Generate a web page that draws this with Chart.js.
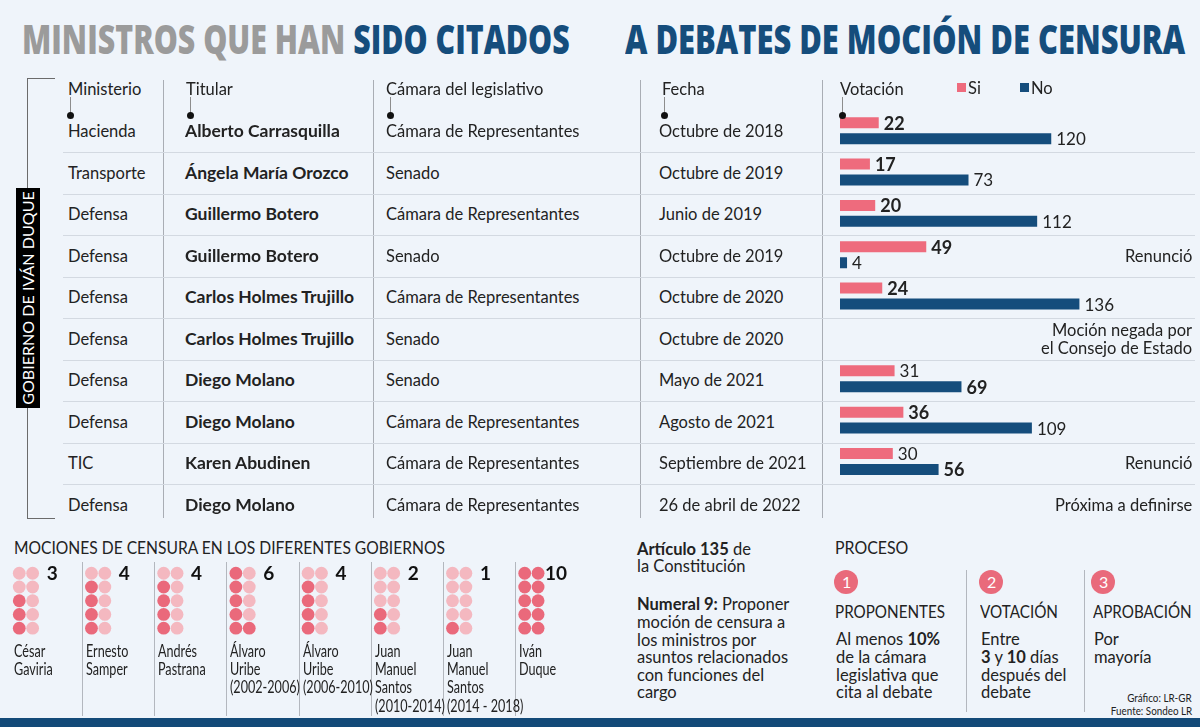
<!DOCTYPE html>
<html lang="es">
<head>
<meta charset="utf-8">
<title>Ministros citados a debates de moción de censura</title>
<script src="https://cdn.jsdelivr.net/npm/chart.js@4.4.1/dist/chart.umd.min.js"></script>
<style>
  body { margin: 0; background: #eff4fa; }
  #lienzo { position: relative; width: 1200px; height: 727px; overflow: hidden; background: #eff4fa; font-family: Lato, "Open Sans", sans-serif; color: #222; }
  .t { position: absolute; white-space: nowrap; font-size: 16.5px; }
  .ln { position: absolute; }
  canvas { position: absolute; }
</style>
</head>
<body>
<div id="lienzo">
  <canvas id="barras" width="360" height="415" style="left:840px;top:110px"></canvas>
  <canvas id="puntos" width="600" height="72" style="left:0px;top:565px"></canvas>
</div>
<script>
// DATOS DE LA TABLA
const ministerios = ['Hacienda', 'Transporte', 'Defensa', 'Defensa', 'Defensa', 'Defensa', 'Defensa', 'Defensa', 'TIC', 'Defensa'];
const titulares = ['Alberto Carrasquilla', 'Ángela María Orozco', 'Guillermo Botero', 'Guillermo Botero', 'Carlos Holmes Trujillo',
    'Carlos Holmes Trujillo', 'Diego Molano', 'Diego Molano', 'Karen Abudinen', 'Diego Molano'];
const camaras = ['Cámara de Representantes', 'Senado', 'Cámara de Representantes', 'Senado', 'Cámara de Representantes',
    'Senado', 'Senado', 'Cámara de Representantes', 'Cámara de Representantes', 'Cámara de Representantes'];
const fechas = ['Octubre de 2018', 'Octubre de 2019', 'Junio de 2019', 'Octubre de 2019', 'Octubre de 2020',
    'Octubre de 2020', 'Mayo de 2021', 'Agosto de 2021', 'Septiembre de 2021', '26 de abril de 2022'];
const votosSi = [22, 17, 20, 49, 24, null, 31, 36, 30, null];
const votosNo = [120, 73, 112, 4, 136, null, 69, 109, 56, null];
const resaltado = ['si', 'si', 'si', 'si', 'si', null, 'no', 'si', 'no', null];
const notas = ['', '', '', ['Renunció'], '', ['Moción negada por', 'el Consejo de Estado'], '', '', ['Renunció'], ['Próxima a definirse']];

// DATOS DE LOS GOBIERNOS
const gobiernos = [['César', 'Gaviria'], ['Ernesto', 'Samper'], ['Andrés', 'Pastrana'], ['Álvaro', 'Uribe', '(2002-2006)'],
    ['Álvaro', 'Uribe', '(2006-2010)'], ['Juan', 'Manuel', 'Santos', '(2010-2014)'], ['Juan', 'Manuel', 'Santos', '(2014 - 2018)'], ['Iván', 'Duque']];
const mociones = [3, 4, 4, 6, 4, 2, 1, 10];

const colorSi = '#ee6b7d';
const colorNo = '#154d7c';
const angosta = 'Lato, sans-serif';
const lienzo = document.getElementById('lienzo');

// texto posicionado por su centro vertical
function texto(x, y, html, o = {}) {
    const d = document.createElement('div');
    d.className = 't';
    d.innerHTML = html;
    const lh = o.lh || 20;
    d.style.lineHeight = lh + 'px';
    d.style.top = (y - lh / 2) + 'px';
    if (o.size) d.style.fontSize = o.size + 'px';
    if (o.weight) d.style.fontWeight = o.weight;
    if (o.color) d.style.color = o.color;
    if (o.font) d.style.fontFamily = o.font;
    lienzo.appendChild(d);
    const w = d.offsetWidth;
    d.style.left = (o.right ? o.right - w : x) + 'px';
    const s = o.w ? o.w / w : o.sx;
    if (s) {
        d.style.transformOrigin = o.right ? 'right center' : 'left center';
        d.style.transform = `scaleX(${s})`;
    }
    return d;
}
function linea(x, y, w, h, color) {
    const d = document.createElement('div');
    d.className = 'ln';
    Object.assign(d.style, { left: x + 'px', top: y + 'px', width: w + 'px', height: h + 'px', background: color });
    lienzo.appendChild(d);
    return d;
}

// TITULO
texto(22, 38, '<span style="color:#9b9b9b">MINISTROS QUE HAN </span><span style="color:#154d7c">SIDO CITADOS</span>',
    { size: 41, weight: 800, font: '"Open Sans"', lh: 48, w: 548 });
texto(625, 38, '<span style="color:#154d7c">A DEBATES DE MOCIÓN DE CENSURA</span>',
    { size: 41, weight: 800, font: '"Open Sans"', lh: 48, w: 560 });

// ESTRUCTURA DE LA TABLA
const filaTop = 110.5, filaAlto = 41.5;
linea(27, 78, 1, 441, '#6b6b6b');
linea(27, 78, 28, 1, '#6b6b6b');
linea(27, 518, 28, 1, '#6b6b6b');
[163, 373, 640, 822].forEach(x => linea(x, 80, 1, 438, '#a9adb4'));
for (let i = 1; i < ministerios.length; i++) linea(63, Math.round(filaTop + filaAlto * i), 1132, 1, '#d3d9e1');

linea(16, 188, 24, 220, '#000');
const rot = texto(0, 0, 'GOBIERNO DE IVÁN DUQUE', { size: 16, color: '#fff', lh: 20 });
rot.style.left = (28 - rot.offsetWidth / 2) + 'px';
rot.style.top = (298 - 10) + 'px';
rot.style.transform = `rotate(-90deg) scaleX(${214 / rot.offsetWidth})`;

// encabezados
const encabezados = [['Ministerio', 68, 70], ['Titular', 186, 190], ['Cámara del legislativo', 386, 390], ['Fecha', 662, 664], ['Votación', 840, 842]];
encabezados.forEach(([txt, x, px]) => {
    texto(x, 89, txt);
    linea(px, 97, 1, 16, '#8d8d8d');
    const p = linea(px - 3, 112, 7, 7, '#111');
    p.style.borderRadius = '50%';
});
linea(957, 83, 9, 9, colorSi);
texto(968, 88, 'Si');
linea(1020, 83, 9, 9, colorNo);
texto(1031, 88, 'No');

ministerios.forEach((m, i) => {
    const y = filaTop + filaAlto * (i + 0.5);
    texto(68, y, m);
    texto(185, y, titulares[i], { weight: 700, size: 17.5 });
    texto(386, y, camaras[i]);
    texto(659, y, fechas[i]);
    if (notas[i]) notas[i].forEach((n, k) => texto(0, y + (k - (notas[i].length - 1) / 2) * 18, n, { right: 1192 }));
});

// GRAFICO DE VOTACION
const etiquetasBarras = {
    id: 'etiquetasBarras',
    afterDatasetsDraw(chart) {
        const ctx = chart.ctx;
        ctx.save();
        ctx.fillStyle = '#222';
        ctx.textBaseline = 'middle';
        chart.data.datasets.forEach((ds, di) => {
            chart.getDatasetMeta(di).data.forEach((bar, i) => {
                const v = ds.data[i];
                if (v === null) return;
                const negrita = resaltado[i] === (di === 0 ? 'si' : 'no');
                ctx.font = (negrita ? 'bold 18px' : '17px') + ' Lato';
                ctx.fillText(v, bar.x + 5, bar.y + 1);
            });
        });
        ctx.restore();
    }
};
new Chart(document.getElementById('barras'), {
    type: 'bar',
    data: {
        labels: titulares,
        datasets: [
            { label: 'Si', data: votosSi, backgroundColor: colorSi },
            { label: 'No', data: votosNo, backgroundColor: colorNo }
        ]
    },
    options: {
        indexAxis: 'y',
        responsive: false,
        animation: false,
        devicePixelRatio: 1,
        categoryPercentage: 0.771,
        barPercentage: 0.69,
        layout: { padding: { top: 0, bottom: 1.5 } },
        scales: {
            x: { display: false, min: 0, max: 204.5 },
            y: { display: false }
        },
        plugins: { legend: { display: false }, tooltip: { enabled: false } }
    },
    plugins: [etiquetasBarras]
});

// MOCIONES POR GOBIERNO
texto(14, 548, 'MOCIONES DE CENSURA EN LOS DIFERENTES GOBIERNOS', { size: 17, w: 431 });
const paso = 72.15;
for (let g = 1; g < gobiernos.length; g++) linea(Math.round(10 + paso * g), 562, 1, 154, '#b3b7be');
gobiernos.forEach((nombre, g) => {
    nombre.forEach((l, k) => texto(14 + paso * g, 651 + k * 18.2, l, { size: 17.5, font: angosta, lh: 18, sx: 0.72 }));
});

const puntosCon = [], puntosSin = [];
mociones.forEach((n, g) => {
    for (let c = 0; c < 2; c++) {
        for (let r = 0; r < 5; r++) {
            const k = c * 5 + (4 - r);
            (k < n ? puntosCon : puntosSin).push({ x: g * 5.4 + c, y: r });
        }
    }
});
const numerosGobierno = {
    id: 'numerosGobierno',
    afterDatasetsDraw(chart) {
        const ctx = chart.ctx, sx = chart.scales.x, sy = chart.scales.y;
        ctx.save();
        ctx.font = 'bold 19px Lato';
        ctx.fillStyle = '#111';
        ctx.textBaseline = 'middle';
        mociones.forEach((n, g) => ctx.fillText(n, sx.getPixelForValue(g * 5.4 + 1) + (n > 9 ? 7 : 14), sy.getPixelForValue(0) + 1));
        ctx.restore();
    }
};
new Chart(document.getElementById('puntos'), {
    type: 'scatter',
    data: {
        datasets: [
            { label: 'Con moción', data: puntosCon, backgroundColor: '#ea697b', pointRadius: 6.4, borderWidth: 0 },
            { label: 'Sin moción', data: puntosSin, backgroundColor: '#f4b8c0', pointRadius: 6.4, borderWidth: 0 }
        ]
    },
    options: {
        responsive: false,
        animation: false,
        devicePixelRatio: 1,
        layout: { padding: 0, autoPadding: false },
        scales: {
            x: { display: false, min: -1.44, max: 43.43 },
            y: { display: false, reverse: true, min: -0.6, max: 4.64 }
        },
        plugins: { legend: { display: false }, tooltip: { enabled: false } }
    },
    plugins: [numerosGobierno]
});

// ARTICULO 135
const articulo = [[549, '<b>Artículo 135</b> de'], [566, 'la Constitución'], [604, '<b>Numeral 9:</b> Proponer'], [622, 'moción de censura a'],
    [640, 'los ministros por'], [657, 'asuntos relacionados'], [675, 'con funciones del'], [692, 'cargo']];
articulo.forEach(([y, l]) => texto(637, y, l));

// PROCESO
texto(835, 548, 'PROCESO', { size: 17, w: 73 });
[966, 1084].forEach(x => linea(x, 570, 1, 142, '#b3b7be'));
const pasos = [
    { x: 835, c: 846, n: '1', t: 'PROPONENTES', w: 110, l: ['Al menos <b>10%</b>', 'de la cámara', 'legislativa que', 'cita al debate'] },
    { x: 980, c: 991, n: '2', t: 'VOTACIÓN', w: 78, l: ['Entre', '<b>3</b> y <b>10</b> días', 'después del', 'debate'] },
    { x: 1093, c: 1103, n: '3', t: 'APROBACIÓN', w: 99, l: ['Por', 'mayoría'] }
];
pasos.forEach(p => {
    const c = linea(p.c - 12, 570, 24, 24, '#e96a7b');
    c.style.borderRadius = '50%';
    texto(0, 582, p.n, { right: p.c + 5, color: '#fff', size: 16 });
    texto(p.x, 612, p.t, { size: 17, w: p.w });
    p.l.forEach((l, k) => texto(p.x + 1, 639 + k * 17.8, l));
});
texto(0, 698, 'Gráfico: LR-GR', { right: 1192, size: 12, font: angosta, lh: 14, sx: 0.82 });
texto(0, 711, 'Fuente: Sondeo LR', { right: 1192, size: 12, font: angosta, lh: 14, sx: 0.82 });
linea(0, 718, 1200, 9, '#134a78');
</script>
</body>
</html>
